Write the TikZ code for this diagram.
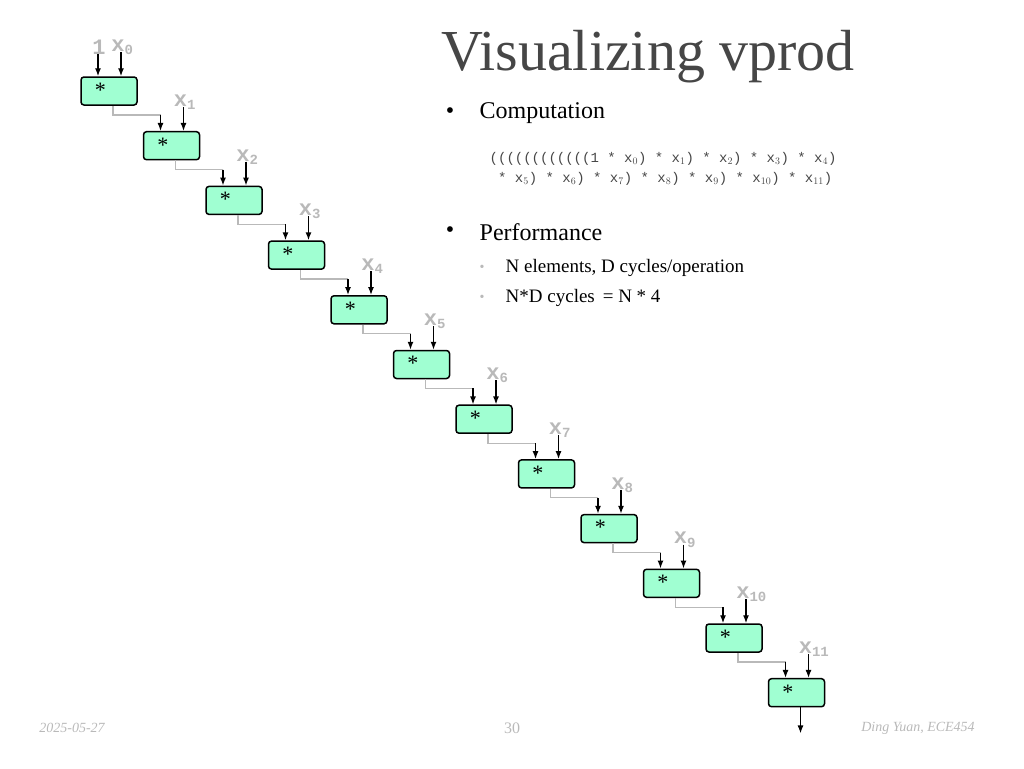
\documentclass[tikz,border=0pt]{standalone}
\usepackage{fontspec}
\setmainfont{Liberation Serif}
\setmonofont{Liberation Mono}
\usetikzlibrary{arrows.meta}
\definecolor{boxfill}{RGB}{160,255,210}
\definecolor{labgray}{RGB}{185,185,185}
\definecolor{txtgray}{RGB}{70,70,70}
\tikzset{every picture/.style={line width=0.75pt}}
\tikzset{
  mulbox/.style={draw, line width=1.5pt, rounded corners=3pt, fill=boxfill, minimum width=56pt, minimum height=28pt, inner sep=0pt},
  inarrow/.style={-{Latex[length=8pt,width=6pt]}, line width=1.4pt},
  feed/.style={draw=labgray, line width=1.2pt},
  inlab/.style={text=labgray, font=\ttfamily\bfseries\fontsize{22}{22}\selectfont, inner sep=0pt}
}
\begin{document}
\begin{tikzpicture}[x=1pt,y=-1pt]
  \useasboundingbox (0,0) rectangle (1024,768);

  %multiplier chain
  \foreach \i in {0,...,11}{
    \node[mulbox] (m\i) at ({81+28+62.5*\i},{77+14+54.7*\i}) {};
    \node[anchor=north west, font=\fontsize{22}{22}\selectfont] at ([xshift=11pt,yshift=-3pt]m\i.north west) {*};
    \coordinate (r\i) at ([xshift=12pt]m\i.north);
    \draw[inarrow] ([yshift=24pt]r\i) -- (r\i);
    \node[inlab, anchor=south west] at ([xshift=-10pt,yshift=21pt]r\i) {x\textsubscript{\fontsize{14}{14}\selectfont\i}};
  }
  \coordinate (l0) at ([xshift=-11pt]m0.north);
  \draw[inarrow] ([yshift=24pt]l0) -- (l0);
  \node[inlab, anchor=south] at ([xshift=1pt,yshift=21pt]l0) {1};
  \foreach \i [count=\j] in {0,...,10}{
    \coordinate (l\j) at ([xshift=-11pt]m\j.north);
    \coordinate (b\i) at ([xshift=4pt]m\i.south);
    \draw[feed] (b\i) |- ([yshift=16pt]l\j);
    \draw[inarrow] ([yshift=16pt]l\j) -- (l\j);
  }
  \coordinate (b11) at ([xshift=4pt]m11.south);
  \draw[inarrow] (b11) -- ++(0,26);

  %text
  \node[text=txtgray, font=\fontsize{58}{58}\selectfont] (title) at (648,57) {Visualizing vprod};
  \node[anchor=west, font=\fontsize{24}{24}\selectfont] (c1) at (476,113) {Computation};
  \node[anchor=east, font=\fontsize{24}{24}\selectfont] at (458,113) {•};
  \node[anchor=west, text=txtgray, font=\ttfamily\fontsize{14}{14}\selectfont, align=left] (code) at (486,169)
    {((((((((((((1 * x$_0$) * x$_1$) * x$_2$) * x$_3$) * x$_4$)\\[6pt]
     \ * x$_5$) * x$_6$) * x$_7$) * x$_8$) * x$_9$) * x$_{10}$) * x$_{11}$)};
  \node[anchor=west, font=\fontsize{24}{24}\selectfont] (c2) at (476,232) {Performance};
  \node[anchor=east, font=\fontsize{24}{24}\selectfont] at (458,232) {•};
  \node[anchor=west, font=\fontsize{19}{19}\selectfont] (p1) at (502,268) {N elements, D cycles/operation};
  \node[anchor=west, font=\fontsize{19}{19}\selectfont] (p2) at (502,298) {N*D cycles \,= N * 4};
  \node[text=labgray, font=\fontsize{14}{14}\selectfont] at (482,268) {•};
  \node[text=labgray, font=\fontsize{14}{14}\selectfont] at (482,298) {•};

  %footer
  \node[text=labgray, font=\itshape\fontsize{14}{14}\selectfont] at (72,728) {2025-05-27};
  \node[text=labgray, font=\fontsize{16}{16}\selectfont] at (512,728) {30};
  \node[text=labgray, font=\itshape\fontsize{14}{14}\selectfont] at (918,728) {Ding Yuan, ECE454};
\end{tikzpicture}
\end{document}
